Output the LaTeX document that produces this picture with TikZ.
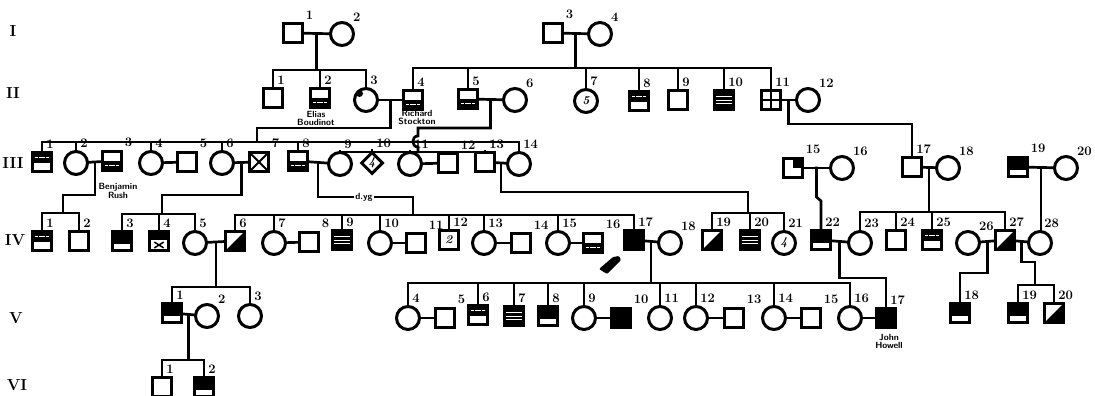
\documentclass[tikz,border=0pt]{standalone}
\usepackage{tikz}
\usetikzlibrary{calc,shapes.geometric}

\begin{document}
\begin{tikzpicture}[x=1pt, y=-1pt, line width=2.7pt, line cap=rect,
    sq/.style={draw, rectangle, minimum size=19pt, inner sep=0pt, line width=3pt},
    ci/.style={draw, circle, minimum size=23pt, inner sep=0pt, line width=3pt},
    dm/.style={draw, diamond, minimum width=22pt, minimum height=22pt, inner sep=0pt, line width=3pt},
    num/.style={font=\bfseries\fontsize{13}{13}\selectfont, inner sep=0.5pt},
    kid/.style={label={[num, anchor=south west, xshift=2.5pt, yshift=0.5pt]north:#1}},
    mate/.style={label={[num, yshift=1pt]45:#1}},
    intext/.style={font=\bfseries\itshape\fontsize{12}{12}\selectfont},
    gen/.style={font=\bfseries\fontsize{16}{16}\selectfont},
    who/.style={font=\sffamily\bfseries\fontsize{9}{8}\selectfont, align=center, inner sep=0.5pt},
    full/.style={fill=black},
    topblack/.style={path picture={\fill (path picture bounding box.north west) rectangle ([yshift=7pt]path picture bounding box.south east);}},
    diag/.style={path picture={\fill (path picture bounding box.south west) -- (path picture bounding box.north east) -- (path picture bounding box.south east) -- cycle;}},
    crossed/.style={path picture={\draw[line width=2pt] (path picture bounding box.south west) -- (path picture bounding box.north east) (path picture bounding box.north west) -- (path picture bounding box.south east);}},
    quads/.style={path picture={\draw[line width=2pt] (path picture bounding box.north) -- (path picture bounding box.south) (path picture bounding box.west) -- (path picture bounding box.east);}},
    corner/.style={path picture={\fill (path picture bounding box.center) rectangle (path picture bounding box.north east);}},
    spot/.style={path picture={\fill ([xshift=5pt,yshift=-5pt]path picture bounding box.north west) circle (3.5pt);}},
    lowdots/.style={path picture={
        \fill ([yshift=-9pt]path picture bounding box.north west) rectangle (path picture bounding box.south east);
        \draw[white, line width=1pt, dash pattern=on 2pt off 1.5pt] ([xshift=3pt,yshift=5pt]path picture bounding box.south west) -- ([xshift=-3pt,yshift=5pt]path picture bounding box.south east);}},
    topdots/.style={path picture={
        \fill (path picture bounding box.north west) rectangle ([yshift=9pt]path picture bounding box.south east);
        \draw[white, line width=1pt, dash pattern=on 2pt off 1.5pt] ([xshift=3pt,yshift=-5pt]path picture bounding box.north west) -- ([xshift=-3pt,yshift=-5pt]path picture bounding box.north east);}},
    stripes/.style={path picture={
        \fill (path picture bounding box.south west) rectangle (path picture bounding box.north east);
        \foreach \f in {0.3,0.5,0.7}
          \draw[white, line width=1pt, dash pattern=on 2pt off 1pt] ($(path picture bounding box.south west)!\f!(path picture bounding box.north west)$) -- ($(path picture bounding box.south east)!\f!(path picture bounding box.north east)$);}},
    xbottom/.style={path picture={
        \fill (path picture bounding box.north west) rectangle ([yshift=-8pt]path picture bounding box.north east);
        \draw[line width=1.5pt] ([xshift=-4pt,yshift=3pt]path picture bounding box.south) -- ([xshift=4pt,yshift=8pt]path picture bounding box.south)
          ([xshift=-4pt,yshift=8pt]path picture bounding box.south) -- ([xshift=4pt,yshift=3pt]path picture bounding box.south);}}
  ]
  \useasboundingbox (0,0) rectangle (1095,396);

  % generation numerals
  \node[gen] (gI) at (13,31) {I};
  \node[gen] (gII) at (13,93) {II};
  \node[gen] (gIII) at (13,163) {III};
  \node[gen] (gIV) at (15,240) {IV};
  \node[gen] (gV) at (16,318) {V};
  \node[gen] (gVI) at (17,385) {VI};

  % generation I
  \node[sq, mate=1] (i1) at (293,33) {};
  \node[ci, mate=2] (i2) at (342,34) {};
  \node[sq, mate=3] (i3) at (553,33) {};
  \node[ci, mate=4] (i4) at (600,34) {};

  % generation II
  \node[sq, kid=1] (ii1) at (273,98) {};
  \node[sq, lowdots, kid=2] (ii2) at (320,98) {};
  \node[ci, spot, kid=3] (ii3) at (366,100) {};
  \node[sq, lowdots, kid=4] (ii4) at (413,100) {};
  \node[sq, lowdots, kid=5] (ii5) at (468,99) {};
  \node[ci, mate=6] (ii6) at (515,100) {};
  \node[ci, intext, kid=7] (ii7) at (586,101) {5};
  \node[sq, topdots, kid=8] (ii8) at (639,101) {};
  \node[sq, kid=9] (ii9) at (678,100) {};
  \node[sq, stripes, kid=10] (ii10) at (724,100) {};
  \node[sq, quads, kid=11] (ii11) at (771,100) {};
  \node[ci, mate=12] (ii12) at (808,100) {};

  % generation III
  \node[sq, topdots, kid=1] (iii1) at (42,162) {};
  \node[ci, kid=2] (iii2) at (76,163) {};
  \node[sq, lowdots, mate=3] (iii3) at (112,161) {};
  \node[ci, kid=4] (iii4) at (151,163) {};
  \node[sq, mate=5] (iii5) at (187,162) {};
  \node[ci, kid=6] (iii6) at (222,163) {};
  \node[sq, crossed, mate=7] (iii7) at (259,162) {};
  \node[sq, lowdots, kid=8] (iii8) at (298,161) {};
  \node[ci, kid=9] (iii9) at (340,164) {};
  \node[dm, intext, kid=10] (iii10) at (372,163) {4};
  \node[ci, kid=11] (iii11) at (410,164) {};
  \node[sq, mate=12] (iii12) at (448,163) {};
  \node[sq, kid=13] (iii13) at (485,162) {};
  \node[ci, kid=14] (iii14) at (519,164) {};
  \node[sq, corner, mate=15] (iii15) at (793,168) {};
  \node[ci, mate=16] (iii16) at (842,168) {};
  \node[sq, kid=17] (iii17) at (912,167) {};
  \node[ci, mate=18] (iii18) at (948,168) {};
  \node[sq, topblack, mate=19] (iii19) at (1018,167) {};
  \node[ci, mate=20] (iii20) at (1066,168) {};

  % generation IV
  \node[sq, topdots, kid=1] (iv1) at (42,241) {};
  \node[sq, kid=2] (iv2) at (79,241) {};
  \node[sq, topblack, kid=3] (iv3) at (122,241) {};
  \node[sq, xbottom, kid=4] (iv4) at (159,241) {};
  \node[ci, kid=5] (iv5) at (195,243) {};
  \node[sq, diag, kid=6] (iv6) at (235,241) {};
  \node[ci, kid=7] (iv7) at (274,243) {};
  \node[sq, mate=8] (iv8) at (309,242) {};
  \node[sq, stripes, kid=9] (iv9) at (342,240) {};
  \node[ci, kid=10] (iv10) at (380,243) {};
  \node[sq, mate=11] (iv11) at (416,243) {};
  \node[sq, intext, kid=12] (iv12) at (449,240) {2};
  \node[ci, kid=13] (iv13) at (484,243) {};
  \node[sq, mate=14] (iv14) at (521,243) {};
  \node[ci, kid=15] (iv15) at (558,243) {};
  \node[sq, lowdots, mate=16] (iv16) at (593,243) {};
  \node[sq, full, kid=17] (iv17) at (634,240) {};
  \node[ci, mate=18] (iv18) at (670,243) {};
  \node[sq, diag, kid=19] (iv19) at (712,240) {};
  \node[sq, stripes, kid=20] (iv20) at (750,240) {};
  \node[ci, intext, kid=21] (iv21) at (784,243) {4};
  \node[sq, topblack, kid=22] (iv22) at (821,240) {};
  \node[ci, kid=23] (iv23) at (860,243) {};
  \node[sq, kid=24] (iv24) at (896,240) {};
  \node[sq, topdots, kid=25] (iv25) at (932,240) {};
  \node[ci, mate=26] (iv26) at (968,243) {};
  \node[sq, diag, kid=27] (iv27) at (1005,240) {};
  \node[ci, kid=28] (iv28) at (1040,243) {};

  % generation V
  \node[sq, topblack, kid=1] (v1) at (172,313) {};
  \node[ci, mate=2] (v2) at (207,316) {};
  \node[ci, kid=3] (v3) at (250,316) {};
  \node[ci, kid=4] (v4) at (408,318) {};
  \node[sq, mate=5] (v5) at (445,318) {};
  \node[sq, topdots, kid=6] (v6) at (478,315) {};
  \node[sq, stripes, kid=7] (v7) at (514,316) {};
  \node[sq, topblack, kid=8] (v8) at (548,316) {};
  \node[ci, kid=9] (v9) at (584,318) {};
  \node[sq, full, mate=10] (v10) at (621,318) {};
  \node[ci, kid=11] (v11) at (660,318) {};
  \node[ci, kid=12] (v12) at (696,318) {};
  \node[sq, mate=13] (v13) at (734,318) {};
  \node[ci, kid=14] (v14) at (774,318) {};
  \node[sq, mate=15] (v15) at (811,318) {};
  \node[ci, kid=16] (v16) at (850,318) {};
  \node[sq, full, kid=17] (v17) at (886,318) {};
  \node[sq, topblack, kid=18] (v18) at (960,313) {};
  \node[sq, topblack, kid=19] (v19) at (1018,313) {};
  \node[sq, diag, kid=20] (v20) at (1054,313) {};

  % generation VI
  \node[sq, kid=1] (vi1) at (162,387) {};
  \node[sq, topblack, kid=2] (vi2) at (204,387) {};

  % marriages
  \foreach \a/\b in {i1/i2, i3/i4, ii3/ii4, ii5/ii6, ii11/ii12,
      iii2/iii3, iii4/iii5, iii6/iii7, iii8/iii9, iii11/iii12, iii13/iii14,
      iii15/iii16, iii17/iii18, iii19/iii20,
      iv5/iv6, iv7/iv8, iv10/iv11, iv13/iv14, iv15/iv16, iv17/iv18,
      iv22/iv23, iv26/iv27, iv27/iv28,
      v1/v2, v4/v5, v9/v10, v12/v13, v14/v15, v16/v17}
    \draw (\a) -- (\b);

  % sibship levels
  \coordinate (sA) at (0,70);
  \coordinate (sB) at (0,68);
  \coordinate (sC) at (0,142);
  \coordinate (sD) at (0,152);
  \coordinate (sE) at (0,213);
  \coordinate (sF) at (0,214);
  \coordinate (sG) at (0,215);
  \coordinate (sH) at (0,213);
  \coordinate (sI) at (0,212);
  \coordinate (sJ) at (0,287);
  \coordinate (sK) at (0,283);
  \coordinate (sL) at (0,285);
  \coordinate (sM) at (0,360);

  % I-1 x I-2
  \coordinate (m1) at ($(i1.east)!0.5!(i2.west)$);
  \draw (m1) -- (m1 |- sA);
  \draw (ii1.north |- sA) -- (ii3.north |- sA);
  \foreach \k in {ii1,ii2,ii3} \draw (\k.north) -- (\k.north |- sA);

  % I-3 x I-4
  \coordinate (m2) at ($(i3.east)!0.5!(i4.west)$);
  \draw (m2) -- (m2 |- sB);
  \draw (ii4.north |- sB) -- (ii11.north |- sB);
  \foreach \k in {ii4,ii5,ii7,ii8,ii9,ii10,ii11} \draw (\k.north) -- (\k.north |- sB);

  % II-3 x II-4
  \coordinate (m3) at ($(ii3.east)!0.5!(ii4.west)$);
  \draw (m3) |- (257,128) -- (257,142);
  \draw (iii1.north |- sC) -- (iii14.north |- sC);
  \foreach \k in {iii1,iii2,iii4,iii6,iii8,iii14} \draw (\k.north) -- (\k.north |- sC);

  % II-5 x II-6
  \coordinate (m4) at ($(ii5.east)!0.5!(ii6.west)$);
  \draw (m4) |- (418,128) -- (418,136) to[out=180, in=180, looseness=1.6] (418,147) -- (418,152);
  \draw (iii9.north |- sD) -- (iii13.north |- sD);
  \foreach \k in {iii9,iii10,iii11,iii13} \draw (\k.north) -- (\k.north |- sD);

  % II-11 x II-12
  \coordinate (m5) at ($(ii11.east)!0.5!(ii12.west)$);
  \draw (m5) |- ([yshift=32pt]iii17.north) -- (iii17.north);

  % III-2 x III-3
  \coordinate (m6) at ($(iii2.east)!0.5!(iii3.west)$);
  \draw (m6) |- (63,195) -- (63,213);
  \draw (iv1.north |- sE) -- (iv2.north |- sE);
  \foreach \k in {iv1,iv2} \draw (\k.north) -- (\k.north |- sE);

  % III-6 x III-7
  \coordinate (m7) at ($(iii6.east)!0.5!(iii7.west)$);
  \draw (m7) |- (162,195) -- (162,214);
  \draw (iv3.north |- sF) -- (iv5.north |- sF);
  \foreach \k in {iv3,iv4,iv5} \draw (\k.north) -- (\k.north |- sF);

  % III-8 x III-9
  \coordinate (m8) at ($(iii8.east)!0.5!(iii9.west)$);
  \draw (m8) |- (413,197) -- (413,215);
  \draw (iv6.north |- sG) -- (iv17.north |- sG);
  \foreach \k in {iv6,iv7,iv9,iv10,iv12,iv13,iv15,iv17} \draw (\k.north) -- (\k.north |- sG);

  % III-13 x III-14
  \coordinate (m9) at ($(iii13.east)!0.5!(iii14.west)$);
  \draw (m9) |- (748,192) -- (748,213);
  \draw (iv19.north |- sH) -- (iv21.north |- sH);
  \foreach \k in {iv19,iv20,iv21} \draw (\k.north) -- (\k.north |- sH);

  % III-15 x III-16
  \coordinate (m10) at ($(iii15.east)!0.5!(iii16.west)$);
  \draw (m10) -- ++(0,29) -- ([yshift=28pt]iv22.north) -- (iv22.north);

  % III-17 x III-18
  \coordinate (m11) at ($(iii17.east)!0.5!(iii18.west)$);
  \draw (m11) -- (m11 |- sI);
  \draw (iv23.north |- sI) -- (iv27.north |- sI);
  \foreach \k in {iv23,iv24,iv25,iv27} \draw (\k.north) -- (\k.north |- sI);

  % III-19 x III-20
  \coordinate (m12) at ($(iii19.east)!0.5!(iii20.west)$);
  \draw (m12) -- (m12 |- iv28.north);

  % IV-5 x IV-6
  \coordinate (m13) at ($(iv5.east)!0.5!(iv6.west)$);
  \draw (m13) -- (m13 |- sJ);
  \draw (v1.north |- sJ) -- (v3.north |- sJ);
  \foreach \k in {v1,v3} \draw (\k.north) -- (\k.north |- sJ);

  % IV-17 x IV-18
  \coordinate (m14) at ($(iv17.east)!0.5!(iv18.west)$);
  \draw (m14) -- (m14 |- sK);
  \draw (v4.north |- sK) -- (v16.north |- sK);
  \foreach \k in {v4,v6,v7,v8,v9,v11,v12,v14,v16} \draw (\k.north) -- (\k.north |- sK);

  % IV-22 x IV-23
  \coordinate (m15) at ($(iv22.east)!0.5!(iv23.west)$);
  \draw (m15) |- ([yshift=29pt]v17.north) -- (v17.north);

  % IV-26 x IV-27
  \coordinate (m16) at ($(iv26.east)!0.5!(iv27.west)$);
  \draw (m16) |- ([yshift=29pt]v18.north) -- (v18.north);

  % IV-27 x IV-28
  \coordinate (m17) at ($(iv27.east)!0.5!(iv28.west)$);
  \draw (m17) |- (1035,262) -- (1035,285);
  \draw (v19.north |- sL) -- (v20.north |- sL);
  \foreach \k in {v19,v20} \draw (\k.north) -- (\k.north |- sL);

  % V-1 x V-2
  \coordinate (m18) at ($(v1.east)!0.5!(v2.west)$);
  \draw (m18) -- (m18 |- sM);
  \draw (vi1.north |- sM) -- (vi2.north |- sM);
  \foreach \k in {vi1,vi2} \draw (\k.north) -- (\k.north |- sM);

  % names
  \node[who] (elias) at (316,118) {Elias\\Boudinot};
  \node[who] (richard) at (417,117) {Richard\\Stockton};
  \node[who] (benjamin) at (118,191) {Benjamin\\Rush};
  \node[who, fill=white, inner sep=1.5pt] (dyg) at (364,197) {d.yg};
  \node[who] (john) at (889,341) {John\\Howell};

  % proband pointer
  \fill[rounded corners=1pt] (599,269) -- (613,257) -- (619,256) -- (621,260) -- (607,274) -- cycle;
\end{tikzpicture}
\end{document}
